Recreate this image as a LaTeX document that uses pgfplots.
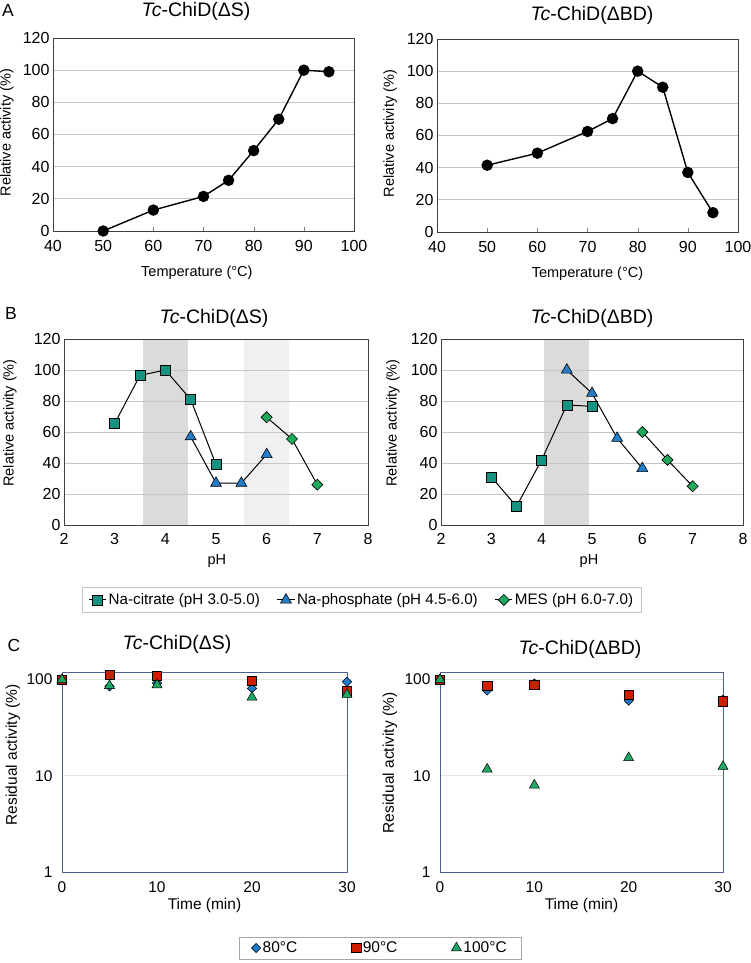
\documentclass[border=0pt]{standalone}
\usepackage{fontspec}
\setmainfont{Liberation Sans}
\usepackage{pgfplots}
\pgfplotsset{compat=1.18}
\definecolor{citr}{RGB}{23,145,128}
\definecolor{phos}{RGB}{36,125,200}
\definecolor{mes}{RGB}{30,170,90}
\definecolor{cblue}{RGB}{31,120,200}
\definecolor{cred}{RGB}{205,30,0}
\definecolor{cgreen}{RGB}{30,168,100}
\definecolor{slate}{RGB}{80,95,140}
\newcommand{\fs}[1]{\fontsize{#1}{#1}\selectfont}
\pgfplotsset{
  base/.style={scale only axis, anchor=south west, set layers,
    /pgf/number format/assume math mode=true,
    tick label style={font=\fs{16}}, label style={font=\fs{14.5}},
    axis line style={black!75}, ymajorgrids, grid style={gray!45, line width=0.8pt},
    xtick pos=bottom, ytick pos=left, ytick style={draw=none}},
  Ast/.style={base, width=301pt, height=193pt, xmin=40, xmax=100, ymin=0, ymax=120,
    xtick={40,50,...,100}, ytick={0,20,...,120}, xtick align=inside, major tick length=4pt,
    xticklabel style={yshift=-6pt},
    xlabel={Temperature (°C)}, ylabel={Relative activity (\%)}},
  Bst/.style={base, width=304pt, height=186pt, xmin=2, xmax=8, ymin=0, ymax=120,
    xtick={2,...,8}, ytick={0,20,...,120}, xtick style={draw=none},
    xticklabel style={yshift=-5pt},
    xlabel={pH}, ylabel={Relative activity (\%)}},
  Cst/.style={base, width=285pt, height=200pt, xmin=0, xmax=30, ymin=1, ymax=120,
    xtick={0,10,20,30}, ytick={1,10,100}, yticklabels={1,10,100}, xtick style={draw=none},
    axis line style={slate}, grid style={gray!22, line width=0.8pt},
    xticklabel style={yshift=-6pt}, yticklabel style={xshift=-6pt},
    tick label style={font=\fs{15.5}}, label style={font=\fs{15.5}},
    xlabel={Time (min)}, ylabel={Residual activity (\%)}},
  Aline/.style={black, line width=1.4pt, mark=*, mark size=5pt, mark options={solid}},
  Bcit/.style={black, line width=1pt, mark=square*, mark size=5pt, mark options={fill=citr, draw=black, line width=0.6pt}},
  Bpho/.style={black, line width=1pt, mark=triangle*, mark size=6.3pt, mark options={fill=phos, draw=black, line width=0.6pt}},
  Bmes/.style={black, line width=1pt, mark=square*, mark size=3.9pt, mark options={rotate=45, fill=mes, draw=black, line width=0.6pt}},
  C80/.style={only marks, mark=square*, mark size=3.3pt, mark options={rotate=45, fill=cblue, draw=black, line width=0.5pt}},
  C90/.style={only marks, mark=square*, mark size=4.7pt, mark options={fill=cred, draw=black, line width=0.5pt}},
  C100/.style={only marks, mark=triangle*, mark size=5.8pt, mark options={fill=cgreen, draw=black, line width=0.5pt}},
}
\begin{document}
\begin{tikzpicture}

% ---------------- Panel A ----------------
\node[font=\fs{17.5}] at (8pt,953pt) {A};
\node[font=\fs{19.5}] at (196pt,951.5pt) {\textit{Tc}-ChiD(ΔS)};
\node[font=\fs{19.5}] at (592pt,948pt) {\textit{Tc}-ChiD(ΔBD)};
\begin{axis}[Ast, at={(53pt,732pt)},
  xlabel style={at={(axis description cs:0.478,-0.218)}, anchor=center},
  ylabel style={at={(axis description cs:-0.153,0.51)}, anchor=center}]
\addplot[Aline] coordinates {(50,0) (60,13) (70,21.5) (75,31.5) (80,50) (85,69.5) (90,100) (95,99)};
\end{axis}
\begin{axis}[Ast, at={(437pt,731pt)},
  xlabel style={at={(axis description cs:0.5,-0.218)}, anchor=center},
  ylabel style={at={(axis description cs:-0.156,0.51)}, anchor=center}]
\addplot[Aline] coordinates {(50,41.5) (60,49) (70,62.5) (75,70.5) (80,100) (85,90) (90,37) (95,12)};
\end{axis}

% ---------------- Panel B ----------------
\node[font=\fs{17.5}] at (11pt,650pt) {B};
\node[font=\fs{19.5}] at (214pt,645pt) {\textit{Tc}-ChiD(ΔS)};
\node[font=\fs{19.5}] at (592pt,645pt) {\textit{Tc}-ChiD(ΔBD)};
\begin{axis}[Bst, at={(64pt,438pt)},
  xlabel style={at={(axis description cs:0.503,-0.194)}, anchor=center},
  ylabel style={at={(axis description cs:-0.178,0.548)}, anchor=center},
  legend style={at={(axis description cs:0.98,-0.403)}, anchor=center, draw=gray!45,
    legend columns=3, font=\fs{15.2}, inner xsep=6pt, inner ysep=4pt,
    /tikz/every even column/.append style={column sep=15pt}},
  legend cell align=left]
\addplot[fill=black!14, draw=none, forget plot, on layer=axis background] coordinates {(3.55,0) (3.55,120) (4.45,120) (4.45,0)} -- cycle;
\addplot[fill=black!6, draw=none, forget plot, on layer=axis background] coordinates {(5.55,0) (5.55,120) (6.45,120) (6.45,0)} -- cycle;
\addplot[Bcit] coordinates {(3,65.5) (3.5,96.5) (4,100) (4.5,81) (5,39)};
\addlegendentry{Na-citrate (pH 3.0-5.0)}
\addplot[Bpho] coordinates {(4.5,57) (5,27) (5.5,27) (6,45.5)};
\addlegendentry{Na-phosphate (pH 4.5-6.0)}
\addplot[Bmes] coordinates {(6,69.5) (6.5,55.5) (7,26)};
\addlegendentry{MES (pH 6.0-7.0)}
\end{axis}
\begin{axis}[Bst, at={(441pt,438pt)}, width=302pt,
  xlabel style={at={(axis description cs:0.49,-0.194)}, anchor=center},
  ylabel style={at={(axis description cs:-0.159,0.548)}, anchor=center}]
\addplot[fill=black!14, draw=none, forget plot, on layer=axis background] coordinates {(4.05,0) (4.05,120) (4.95,120) (4.95,0)} -- cycle;
\addplot[Bcit] coordinates {(3,31) (3.5,12) (4,42) (4.5,77.5) (5,76.5)};
\addplot[Bpho] coordinates {(4.5,100) (5,85) (5.5,56) (6,36.5)};
\addplot[Bmes] coordinates {(6,60) (6.5,42) (7,25)};
\end{axis}

% ---------------- Panel C ----------------
\node[font=\fs{17.5}] at (14pt,318pt) {C};
\node[font=\fs{19.5}] at (177pt,319pt) {\textit{Tc}-ChiD(ΔS)};
\node[font=\fs{19.5}] at (580pt,314pt) {\textit{Tc}-ChiD(ΔBD)};
\begin{axis}[ymode=log, Cst, at={(62pt,91pt)},
  xlabel style={at={(axis description cs:0.5,-0.165)}, anchor=center},
  ylabel style={at={(axis description cs:-0.172,0.585)}, anchor=center},
  legend style={at={(axis description cs:1.116,-0.38)}, anchor=center, draw=gray!70,
    legend columns=3, font=\fs{15.5}, inner xsep=12pt, inner ysep=3pt,
    /tikz/every even column/.append style={column sep=52pt}},
  legend cell align=left]
\addplot[C80] coordinates {(0,100) (5,85) (10,92) (20,81) (30,95)};
\addlegendentry{80°C}
\addplot[C90] coordinates {(0,100) (5,112) (10,110) (20,97.5) (30,75.5)};
\addlegendentry{90°C}
\addplot[C100] coordinates {(0,100) (5,86.5) (10,88) (20,65.5) (30,70)};
\addlegendentry{100°C}
\end{axis}
\begin{axis}[ymode=log, Cst, at={(440pt,91pt)}, width=283pt,
  xlabel style={at={(axis description cs:0.5,-0.165)}, anchor=center},
  ylabel style={at={(axis description cs:-0.177,0.545)}, anchor=center}]
\addplot[C80] coordinates {(0,100) (5,77) (10,91) (20,60.5) (30,62)};
\addplot[C90] coordinates {(0,100) (5,86.5) (10,89) (20,70) (30,59.5)};
\addplot[C100] coordinates {(0,100) (5,11.7) (10,8) (20,15.4) (30,12.5)};
\end{axis}
\pgfresetboundingbox
\useasboundingbox (0pt,0pt) rectangle (750pt,963pt);
\end{tikzpicture}
\end{document}
